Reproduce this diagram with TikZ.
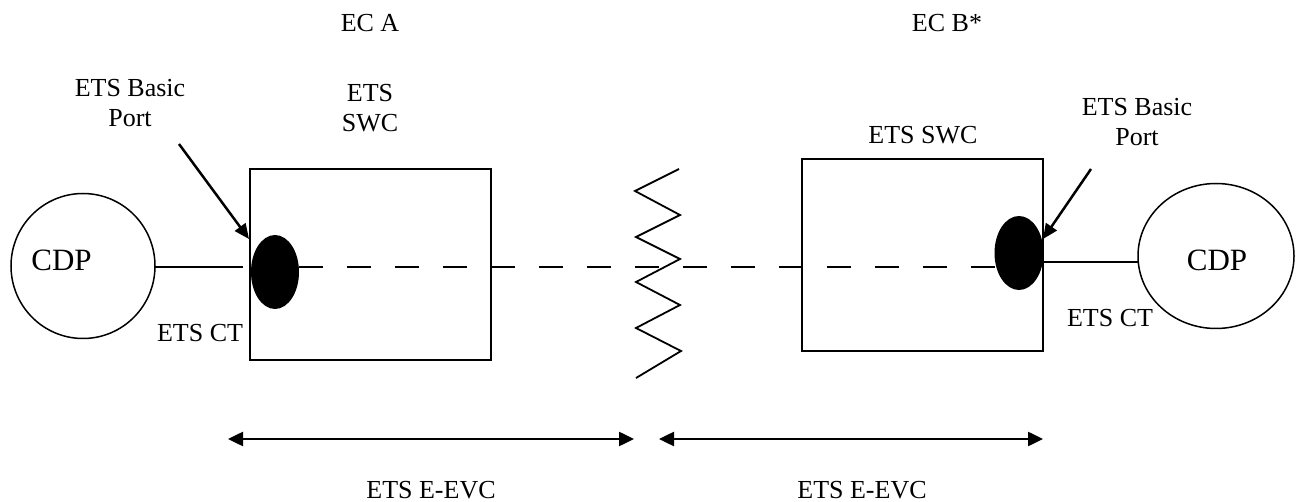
\documentclass[tikz,border=0pt]{standalone}
\usepackage{fontspec}
\setmainfont{Liberation Serif}
\usetikzlibrary{arrows.meta,shapes.geometric}
\begin{document}
\begin{tikzpicture}[x=1pt,y=-1pt,
  lbl/.style={inner sep=0pt,anchor=base,align=center,font=\fontsize{26}{30}\selectfont},
  cdplbl/.style={inner sep=0pt,anchor=base,font=\fontsize{31}{34}\selectfont},
  swcbox/.style={draw,line width=2pt,rectangle,inner sep=0pt},
  cdpnode/.style={draw,line width=1.5pt,ellipse,inner sep=0pt},
  portdot/.style={fill=black,draw=none,ellipse,inner sep=0pt},
  link/.style={line width=1.5pt},
  dashlink/.style={line width=1.5pt,dash pattern=on 24pt off 24pt},
  ptr/.style={line width=2.5pt,-{Triangle[length=15pt,width=13pt]}},
  span/.style={line width=2.5pt,{Triangle[length=15pt,width=14pt]}-{Triangle[length=15pt,width=14pt]}}]
\useasboundingbox (0,0) rectangle (1296,502);

% top labels
\node[lbl] (eca) at (370,32) {EC A};
\node[lbl] (ecb) at (947,32) {EC B*};

% CDP circles
\node[cdpnode,minimum width=144pt,minimum height=145pt] (lcirc) at (83,266) {};
\node[cdplbl] (lcdp) at (61.5,271) {CDP};
\node[cdpnode,minimum width=156pt,minimum height=145pt] (rcirc) at (1216,256) {};
\node[cdplbl] (rcdp) at (1217,271) {CDP};

% SWC boxes
\node[swcbox,minimum width=241pt,minimum height=191pt] (lbox) at (370.5,264.5) {};
\node[swcbox,minimum width=241pt,minimum height=192pt] (rbox) at (922.5,255) {};
\node[lbl] (lswc) at (370,132) {ETS\\SWC};
\node[lbl] (rswc) at (923,144) {ETS SWC};

% ports
\node[portdot,minimum width=48pt,minimum height=74pt] (lport) at (275,272) {};
\node[portdot,minimum width=49pt,minimum height=74pt] (rport) at (1019,253) {};

% port labels
\node[lbl] (lbasic) at (130,127) {ETS Basic\\Port};
\node[lbl] (rbasic) at (1137,146) {ETS Basic\\Port};
\coordinate (la0) at (179,144);
\coordinate (la1) at (249,239);
\coordinate (ra0) at (1091,169);
\coordinate (ra1) at (1043,239);
\draw[ptr] (la0) -- (la1);
\draw[ptr] (ra0) -- (ra1);

% CT labels
\node[lbl] (lct) at (200,342) {ETS CT};
\node[lbl] (rct) at (1110,327) {ETS CT};

% connections
\coordinate (lc1) at (155,267);
\coordinate (lc2) at (243,267);
\draw[link] (lc1) -- (lc2);
\coordinate (d1) at (299,267);
\coordinate (d2) at (995,267);
\draw[dashlink] (d1) -- (d2);
\coordinate (rc1) at (1043,262);
\coordinate (rc2) at (1138,262);
\draw[link] (rc1) -- (rc2);

% zigzag break
\draw[line width=1.8pt,line join=miter] (679,169) -- (635,191) -- (680,215) -- (636,237) -- (680,259) -- (636,282) -- (680,305) -- (636,328) -- (681,351) -- (636,378);

% spans
\coordinate (s1a) at (228,439);
\coordinate (s1b) at (634,439);
\coordinate (s2a) at (659,439);
\coordinate (s2b) at (1043,439);
\draw[span] (s1a) -- (s1b);
\draw[span] (s2a) -- (s2b);
\node[lbl] (e1) at (431,498) {ETS E-EVC};
\node[lbl] (e2) at (862,498) {ETS E-EVC};
\end{tikzpicture}
\end{document}
